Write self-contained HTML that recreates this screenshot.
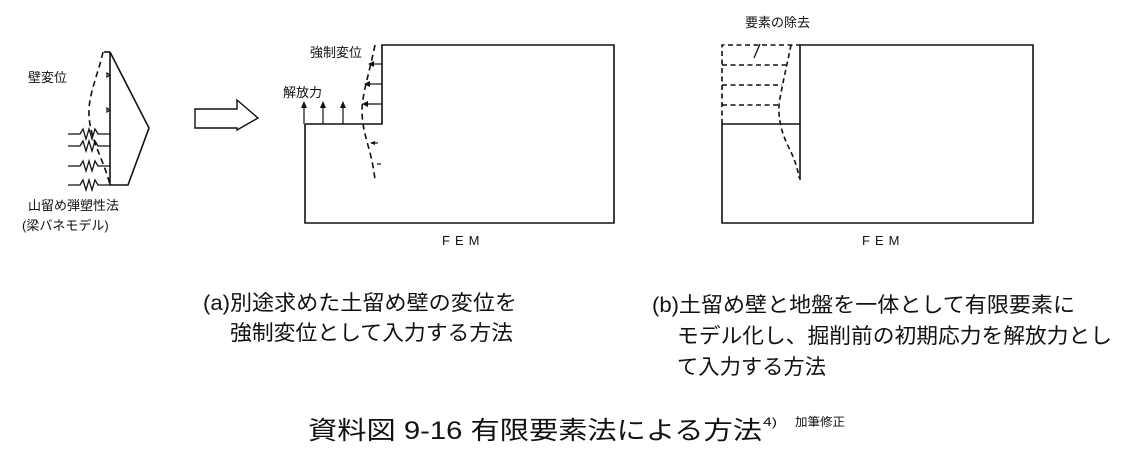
<!DOCTYPE html>
<html><head><meta charset="utf-8"><style>
html,body{margin:0;padding:0;background:#fff;}
svg{display:block;}
text{font-family:"Liberation Sans","Noto Sans CJK JP",sans-serif;fill:#111;}
.s13{font-size:13px;}
.b21{font-size:21px;}
.cap{font-size:25px;}
.sm{font-size:12px;}
.fem{font-size:13px;letter-spacing:5px;}
</style></head><body>
<svg width="1147" height="458" viewBox="0 0 1147 458" xmlns="http://www.w3.org/2000/svg">
<g stroke="#111" stroke-width="1.6" fill="none">
<line x1="104" y1="52" x2="110" y2="52"/>
<line x1="110" y1="52" x2="110" y2="185"/>
<polyline points="110,52 149,128 128,185 110,185"/>
<path d="M103,52 C98,75 88,95 89,115 C90,140 104,160 110,185" stroke-dasharray="6,4"/>
<path d="M110,75 l-3,-2 v4 z M110,110 l-3,-2 v4 z" stroke-width="1.2"/>
<g stroke-width="1.3">
<polyline points="68,134 80,134 83,129 86,139 89,129 92,139 95,129 98,134 110,134"/>
<polyline points="68,146 80,146 83,141 86,151 89,141 92,151 95,141 98,146 110,146"/>
<polyline points="68,166 80,166 83,161 86,171 89,161 92,171 95,161 98,166 110,166"/>
<polyline points="68,185 80,185 83,180 86,190 89,180 92,190 95,180 98,185 110,185"/>
</g>
<polygon points="195,109 237,109 237,100 258,118 237,130 237,128 195,128" stroke-width="1.4"/>
<polyline points="305,124 382,124 382,45 614,45 614,223 305,223 305,124"/>
<path d="M375,45 C370,70 362,95 362,110 C362,135 372,150 375,180" stroke-dasharray="6,4"/>
<g stroke-width="1.2">
<line x1="304" y1="124" x2="304" y2="106"/>
<line x1="323" y1="124" x2="323" y2="106"/>
<line x1="343" y1="124" x2="343" y2="106"/>
<line x1="382" y1="64" x2="370" y2="64"/>
<line x1="382" y1="84" x2="366" y2="84"/>
<line x1="382" y1="104" x2="364" y2="104"/>
<line x1="378" y1="143" x2="371" y2="143"/>
<line x1="381" y1="164" x2="377" y2="164"/>
</g>
<g fill="#111" stroke="none">
<polygon points="304,101 301,108 307,108"/>
<polygon points="323,101 320,108 326,108"/>
<polygon points="343,101 340,108 346,108"/>
<polygon points="368,64 374,61 374,67"/>
<polygon points="364,84 370,81 370,87"/>
<polygon points="362,104 368,101 368,107"/>
<polygon points="370,143 375,141 375,145"/>
</g>
<polyline points="722,124 800,124 800,45 1033,45 1033,223 722,223 722,124"/>
<line x1="800" y1="124" x2="800" y2="180"/>
<g stroke-dasharray="5,3.5">
<polyline points="722,124 722,45 800,45"/>
<line x1="722" y1="65" x2="786" y2="65"/>
<line x1="722" y1="85" x2="782" y2="85"/>
<line x1="722" y1="105" x2="779" y2="105"/>
<path d="M791,45 C787,65 781,90 779,105 C778,125 785,140 790,150 C795,160 798,170 799,178"/>
</g>
<line x1="760" y1="44" x2="754" y2="58" stroke-width="1.3"/>
</g>
<text class="s13" x="28" y="82">壁変位</text>
<text class="s13" x="28" y="210">山留め弾塑性法</text>
<text class="s13" x="22" y="230">(梁バネモデル)</text>
<text class="s13" x="310" y="57">強制変位</text>
<text class="s13" x="283" y="97">解放力</text>
<text class="s13" x="745" y="27">要素の除去</text>
<text class="fem" x="442" y="245">FEM</text>
<text class="fem" x="862" y="245">FEM</text>
<text class="b21" x="203" y="310" textLength="314" lengthAdjust="spacingAndGlyphs">(a)別途求めた土留め壁の変位を</text>
<text class="b21" x="230" y="340" textLength="283" lengthAdjust="spacingAndGlyphs">強制変位として入力する方法</text>
<text class="b21" x="652" y="312" textLength="423" lengthAdjust="spacingAndGlyphs">(b)土留め壁と地盤を一体として有限要素に</text>
<text class="b21" x="677" y="343" textLength="435" lengthAdjust="spacingAndGlyphs">モデル化し、掘削前の初期応力を解放力とし</text>
<text class="b21" x="677" y="374" textLength="149" lengthAdjust="spacingAndGlyphs">て入力する方法</text>
<text class="cap" x="308" y="439" textLength="454" lengthAdjust="spacingAndGlyphs">資料図 9-16 有限要素法による方法</text>
<text class="sm" x="763" y="426" textLength="14" lengthAdjust="spacingAndGlyphs">4)</text>
<text class="sm" x="795" y="426" textLength="50" lengthAdjust="spacingAndGlyphs">加筆修正</text>
</svg>
</body></html>
